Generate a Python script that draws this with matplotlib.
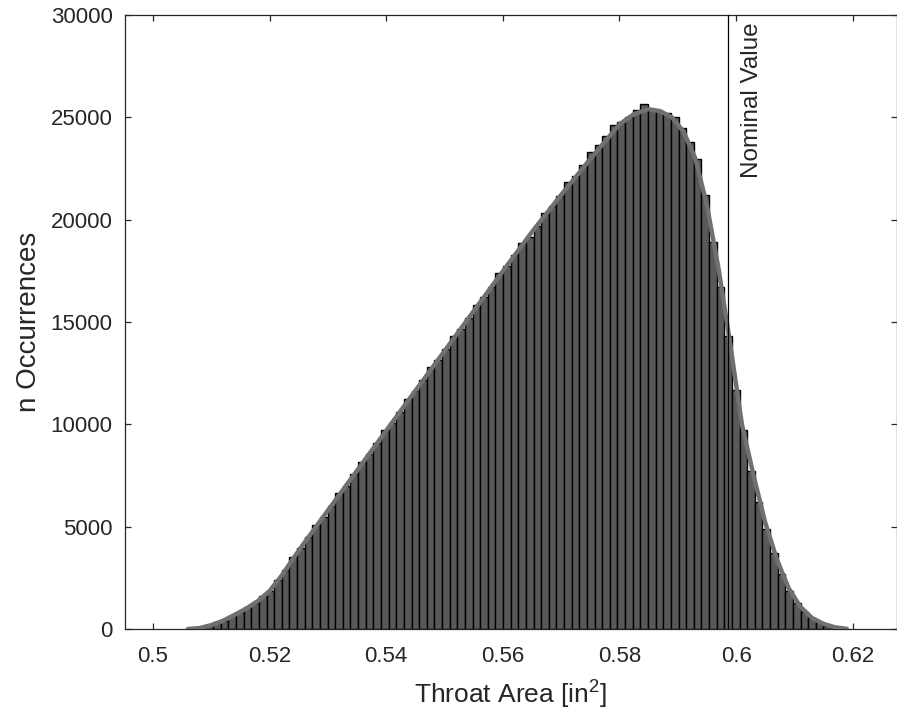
import numpy as np
import matplotlib
matplotlib.use("Agg")
import matplotlib.pyplot as plt

plt.rcParams['font.family'] = ['Liberation Sans', 'DejaVu Sans']
plt.rcParams['mathtext.fontset'] = 'custom'
plt.rcParams['mathtext.rm'] = 'Liberation Sans'
plt.rcParams['mathtext.it'] = 'Liberation Sans'

# ---- data ----
bin_lo = 0.5064
bin_hi = 0.6176
counts = [60, 70, 190, 330, 400, 640, 820, 1080, 1260, 1600,
          1870, 2400, 2880, 3520, 3950, 4480, 5100, 5480, 6020, 6640,
          7010, 7560, 8180, 8540, 9090, 9700, 10080, 10610, 11250, 11610,
          12150, 12790, 13130, 13680, 14330, 14680, 15200, 15850, 16200, 16730,
          17380, 17720, 18260, 18870, 19150, 19680, 20310, 20650, 21160, 21820,
          22150, 22680, 23330, 23650, 24080, 24620, 24750, 25010, 25380, 25650,
          25350, 25300, 25190, 25000, 24500, 23800, 22950, 21200, 18900, 16700,
          14300, 11700, 9700, 7700, 6200, 4900, 3700, 2700, 1880, 1260,
          840, 520, 340, 170, 70]

fit_x = [0.5060, 0.5080, 0.5100, 0.5120, 0.5140, 0.5160, 0.5180, 0.5200, 0.5220,
         0.5240, 0.5260, 0.5300, 0.5350, 0.5400, 0.5450, 0.5500, 0.5550, 0.5600,
         0.5650, 0.5700, 0.5750, 0.5800, 0.5825, 0.5850, 0.5870, 0.5890, 0.5910,
         0.5930, 0.5950, 0.5970, 0.5990, 0.6010, 0.6030, 0.6050, 0.6070, 0.6090,
         0.6110, 0.6130, 0.6150, 0.6170, 0.6190]
fit_y = [0, 45, 190, 400, 690, 1000, 1370, 1860, 2580,
         3420, 4230, 5790, 7740, 9690, 11640, 13580, 15530, 17480,
         19400, 21210, 22960, 24660, 25160, 25400, 25300, 25000, 24300,
         23000, 20700, 17600, 13900, 10000, 7500, 5200, 3400, 2000,
         1100, 540, 250, 80, 10]

nominal_value = 0.5987
nominal_label = "Nominal Value"

x_ticks = [0.5, 0.52, 0.54, 0.56, 0.58, 0.6, 0.62]
x_tick_labels = ['0.5', '0.52', '0.54', '0.56', '0.58', '0.6', '0.62']
y_ticks = [0, 5000, 10000, 15000, 20000, 25000, 30000]
y_tick_labels = ['0', '5000', '10000', '15000', '20000', '25000', '30000']

x_label = "Throat Area [in$^2$]"
y_label = "n Occurrences"

# ---- plot ----
fig = plt.figure(figsize=(8.97, 7.17), dpi=100)
ax = fig.add_axes([125 / 897, 1 - 629 / 717, 1 - 125 / 897, (629 - 15) / 717])

edges = np.linspace(bin_lo, bin_hi, len(counts) + 1)
ax.bar(edges[:-1], counts, width=np.diff(edges), align='edge',
       color='#595959', edgecolor='black', linewidth=1.0, zorder=2)
ax.plot(fit_x, fit_y, color='#707070', linewidth=3.2, zorder=3,
        solid_capstyle='round', solid_joinstyle='round')

ax.axvline(nominal_value, color='black', linewidth=0.9, zorder=4)
ax.annotate(nominal_label, xy=(nominal_value, 30000), xytext=(9, -5),
            textcoords='offset points', rotation=90, ha='left', va='top',
            fontsize=17.5, color='#262626')

ax.set_xlim(0.4952, 0.6276)
ax.set_ylim(0, 30000)
ax.set_xticks(x_ticks)
ax.set_xticklabels(x_tick_labels)
ax.set_yticks(y_ticks)
ax.set_yticklabels(y_tick_labels)

ax.tick_params(direction='in', length=4.5, width=0.9, top=True, right=True,
               labelsize=16, colors='#262626', pad=9)
ax.tick_params(axis='x', pad=12)
for s in ax.spines.values():
    s.set_color('#262626')
    s.set_linewidth(0.9)

ax.set_xlabel(x_label, fontsize=19, color='#262626', labelpad=9)
ax.set_ylabel(y_label, fontsize=20, color='#262626', labelpad=6)

fig.savefig('out.png', dpi=100)
